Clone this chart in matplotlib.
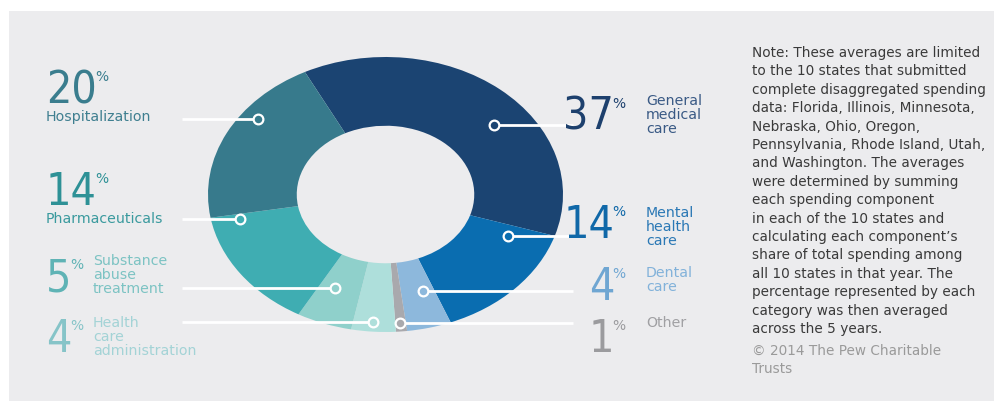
import matplotlib.pyplot as plt
from matplotlib.patches import Rectangle

# spending shares, in pie order (clockwise from the top)
categories = ['General\nmedical\ncare', 'Mental\nhealth\ncare', 'Dental\ncare', 'Other',
              'Health\ncare\nadministration', 'Substance\nabuse\ntreatment',
              'Pharmaceuticals', 'Hospitalization']
shares = [37, 14, 4, 1, 4, 5, 14, 20]
slice_colors = ['#1b4472', '#0a6db0', '#8db8dc', '#a9a9ad',
                '#aedfdb', '#8fd0cb', '#3fadb2', '#377a8c']
num_colors = ['#1d406d', '#1068a8', '#6fa6d2', '#9b9b9e',
              '#86c4c8', '#5fb3b5', '#2e9196', '#3a7d8e']
text_colors = ['#3a5a85', '#2a78b5', '#82b2da', '#a0a0a3',
               '#a3d3d6', '#7cc3c3', '#3a9a9e', '#3f7f90']

note = ("Note: These averages are limited\nto the 10 states that submitted\n"
        "complete disaggregated spending\ndata: Florida, Illinois, Minnesota,\n"
        "Nebraska, Ohio, Oregon,\nPennsylvania, Rhode Island, Utah,\n"
        "and Washington. The averages\nwere determined by summing\n"
        "each spending component\nin each of the 10 states and\n"
        "calculating each component\u2019s\nshare of total spending among\n"
        "all 10 states in that year. The\npercentage represented by each\n"
        "category was then averaged\nacross the 5 years.")
credit = "\u00a9 2014 The Pew Charitable\nTrusts"

W, H = 994, 401
fig = plt.figure(figsize=(W / 100, H / 100), dpi=100, facecolor='white')

# grey panel behind everything
bg = fig.add_axes([0, 0, 1, 1], zorder=0)
bg.set_xlim(0, W); bg.set_ylim(H, 0); bg.axis('off')
bg.add_patch(Rectangle((9, 11), W - 9, H - 11, color='#ececee', lw=0))

# donut, stretched into an ellipse
px = (208, 57, 563, 332)
ax = fig.add_axes([px[0] / W, 1 - px[3] / H, (px[2] - px[0]) / W, (px[3] - px[1]) / H],
                  zorder=1)
ax.pie(shares, colors=slice_colors, startangle=117, counterclock=False,
       radius=1, wedgeprops=dict(width=0.5, linewidth=0))
ax.set_aspect('auto')
ax.set_xlim(-1, 1); ax.set_ylim(-1, 1)
ax.axis('off')

# overlay in pixel coordinates for leaders and labels
ov = fig.add_axes([0, 0, 1, 1], zorder=2)
ov.set_xlim(0, W); ov.set_ylim(H, 0); ov.axis('off')
ov.patch.set_alpha(0)

# leader y, dot x, side, number anchor x, number baseline y, label x, first label line y
layout = [
    (125, 494, 'R', 614, 130, 646, 101),
    (236, 508, 'R', 614, 238, 646, 213),
    (291, 423, 'R', 614, 300, 646, 273),
    (323, 400, 'R', 614, 352, 646, 323),
    (322, 373, 'L', 46, 352, 93, 323),
    (288, 335, 'L', 46, 291, 93, 261),
    (219, 240, 'L', 46, 205, 46, 219),
    (119, 258, 'L', 46, 103, 46, 117),
]

for i, (ly, dx, side, nx, ny, tx, ty) in enumerate(layout):
    x0, x1 = (dx, 573) if side == 'R' else (182, dx)
    ov.plot([x0, x1], [ly, ly], color='white', lw=2, solid_capstyle='butt', zorder=3)
    ov.plot(dx, ly, 'o', ms=7, mfc=slice_colors[i], mec='white', mew=1.6, zorder=4)

    num = ov.text(nx, ny, f"{shares[i]}", ha='right' if side == 'R' else 'left',
                  va='baseline', fontsize=32, family='DejaVu Sans',
                  fontstretch='condensed', color=num_colors[i])
    ov.annotate('%', xy=(1, 1), xycoords=num, xytext=(-1, -1),
                textcoords='offset points', ha='left', va='top',
                fontsize=10, color=num_colors[i])
    for k, line in enumerate(categories[i].split('\n')):
        ov.text(tx, ty + k * 14, line, ha='left', va='center',
                fontsize=10.2, color=text_colors[i])

ov.text(752, 46, note, ha='left', va='top', fontsize=9.8, color='#3a3a3a',
        linespacing=1.40)
ov.text(752, 344, credit, ha='left', va='top', fontsize=9.8, color='#9a9a9a',
        linespacing=1.40)

fig.savefig('out.png', dpi=100, facecolor='white')
